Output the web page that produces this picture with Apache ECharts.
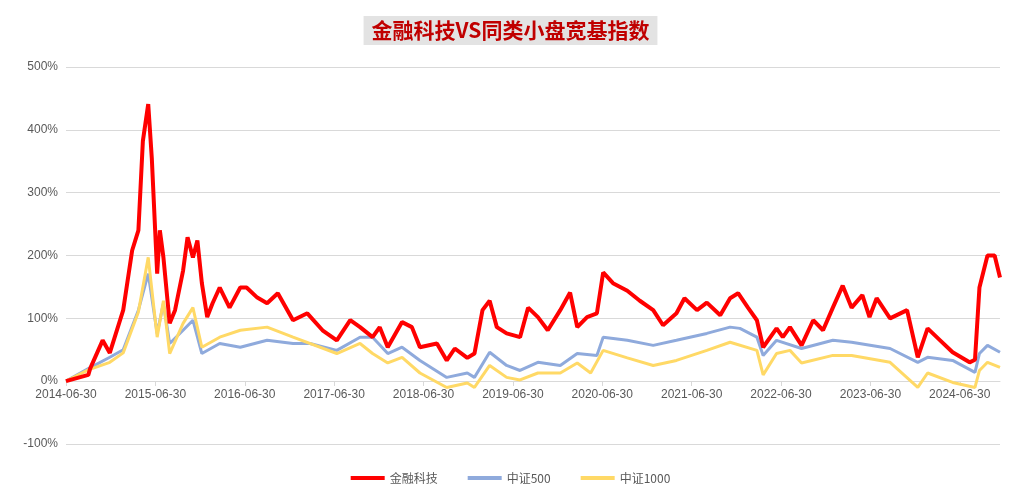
<!DOCTYPE html>
<html>
<head>
<meta charset="UTF-8">
<script src="https://cdn.jsdelivr.net/npm/echarts@6/dist/echarts.min.js"></script>
<style>body{margin:0;background:#fff}#chart{width:1021px;height:503px}</style>
</head>
<body>
<div id="chart"></div>
<script>
// t = 自2014-06-30起的年数
var redT = [0,.25,.27,.41,.49,.64,.74,.81,.86,.92,.96,1.02,1.05,1.09,1.16,1.22,1.31,1.36,1.42,1.47,1.52,1.58,1.64,1.72,1.83,1.95,2.02,2.14,2.25,2.37,2.54,2.70,2.87,3.03,3.18,3.29,3.43,3.51,3.60,3.76,3.87,3.96,4.15,4.26,4.35,4.49,4.57,4.66,4.74,4.82,4.93,5.08,5.17,5.28,5.39,5.53,5.64,5.72,5.83,5.94,6.01,6.12,6.28,6.42,6.57,6.68,6.83,6.92,7.06,7.17,7.32,7.43,7.52,7.63,7.73,7.80,7.95,8.02,8.10,8.23,8.36,8.47,8.58,8.69,8.79,8.91,8.99,9.07,9.22,9.41,9.53,9.64,9.78,9.92,10.11,10.17,10.22,10.31,10.39,10.45];
var redV = [0,10,20,65,45,113,208,240,382,441,355,171,240,197,92,113,176,229,197,224,156,102,124,149,117,149,149,133,124,140,97,108,81,65,97,86,70,86,54,94,86,54,60,33,52,37,44,113,128,86,76,70,117,102,81,113,141,86,102,108,173,156,144,128,113,89,108,132,113,125,105,132,140,117,97,54,84,70,86,57,97,81,117,152,117,137,102,132,100,113,38,84,65,46,30,34,149,200,200,165];
var blueT = [0,.25,.49,.64,.81,.92,1.02,1.09,1.16,1.31,1.42,1.52,1.72,1.95,2.25,2.54,2.73,3.03,3.29,3.43,3.60,3.76,3.96,4.26,4.49,4.57,4.74,4.93,5.08,5.28,5.53,5.72,5.94,6.01,6.28,6.57,6.83,7.17,7.43,7.54,7.73,7.80,7.95,8.23,8.58,8.79,9.22,9.53,9.64,9.92,10.17,10.22,10.31,10.45];
var blueV = [0,20,38,50,113,171,76,124,60,81,97,44,60,54,65,60,60,49,70,70,44,54,33,6,13,6,46,25,17,30,25,44,41,70,65,57,65,76,86,84,70,41,65,52,65,62,52,30,38,33,14,44,57,46];
var yellowT = [0,.25,.49,.64,.81,.92,1.02,1.09,1.16,1.31,1.42,1.52,1.72,1.95,2.25,2.54,3.03,3.29,3.43,3.60,3.76,3.96,4.26,4.49,4.57,4.74,4.93,5.08,5.28,5.53,5.72,5.87,6.01,6.28,6.57,6.83,7.17,7.43,7.73,7.80,7.95,8.10,8.23,8.58,8.79,9.22,9.53,9.64,9.92,10.17,10.22,10.31,10.45];
var yellowV = [0,18,30,45,110,197,70,128,44,92,117,54,70,81,86,70,44,60,44,29,38,13,-10,-3,-10,25,6,2,13,13,29,13,49,37,25,33,49,62,49,10,44,49,29,41,41,30,-10,13,-2,-10,17,30,22];

function pairs(t, v) { return t.map(function (x, i) { return [x, v[i]]; }); }

var chart = echarts.init(document.getElementById('chart'));
chart.setOption({
    animation: false,
    title: {
        text: '金融科技VS同类小盘宽基指数', left: 'center', top: 16,
        backgroundColor: '#e3e3e3', padding: [4, 8],
        textStyle: {color: '#c00000', fontSize: 21, fontWeight: 'bold', fontFamily: 'Noto Sans CJK SC'}
    },
    legend: {
        bottom: 14, itemWidth: 34, itemHeight: 4, itemGap: 30,
        icon: 'rect',
        textStyle: {color: '#595959', fontSize: 12, fontFamily: 'Noto Sans CJK SC'},
        data: ['金融科技', '中证500', '中证1000']
    },
    grid: {left: 66, right: 21, top: 67, bottom: 59},
    xAxis: {
        type: 'value', min: 0, max: 10.45, interval: 1,
        offset: -63,
        axisLine: {onZero: false, lineStyle: {color: '#d9d9d9'}},
        axisTick: {show: true, length: 5, lineStyle: {color: '#d9d9d9'}},
        axisLabel: {color: '#595959', fontSize: 12, showMaxLabel: false,
            formatter: function (v) { return (2014 + Math.round(v)) + '-06-30'; }},
        splitLine: {show: false}
    },
    yAxis: {
        type: 'value', min: -100, max: 500, interval: 100,
        axisLine: {show: false}, axisTick: {show: false},
        axisLabel: {color: '#595959', fontSize: 12, formatter: '{value}%'},
        splitLine: {lineStyle: {color: '#d9d9d9'}}
    },
    series: [
        {name: '金融科技', type: 'line', showSymbol: false, z: 5, data: pairs(redT, redV),
            itemStyle: {color: '#ff0000'}, lineStyle: {width: 4, color: '#ff0000'}},
        {name: '中证500', type: 'line', showSymbol: false, z: 3, data: pairs(blueT, blueV),
            itemStyle: {color: '#8faadc'}, lineStyle: {width: 3, color: '#8faadc'}},
        {name: '中证1000', type: 'line', showSymbol: false, z: 4, data: pairs(yellowT, yellowV),
            itemStyle: {color: '#ffd966'}, lineStyle: {width: 3, color: '#ffd966'}}
    ]
});
</script>
</body>
</html>
